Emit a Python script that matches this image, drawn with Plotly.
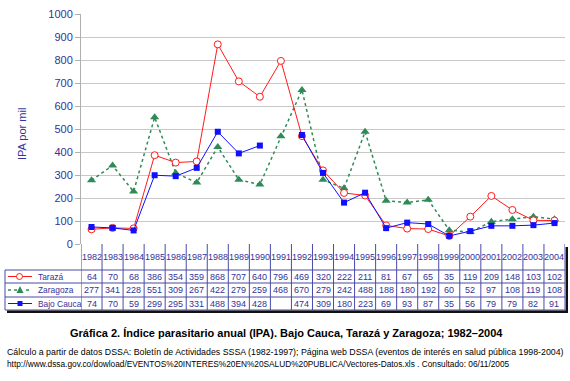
import plotly.graph_objects as go

years = [str(y) for y in range(1982, 2005)]
taraza = [64, 70, 68, 386, 354, 359, 868, 707, 640, 796, 469, 320, 222, 211, 81, 67, 65, 35, 119, 209, 148, 103, 102]
zaragoza = [277, 341, 228, 551, 309, 267, 422, 279, 259, 468, 670, 279, 242, 488, 188, 180, 192, 60, 52, 97, 108, 119, 108]
bajo_cauca = [74, 70, 59, 299, 295, 331, 488, 394, 428, None, 474, 309, 180, 223, 69, 93, 87, 35, 56, 79, 79, 82, 91]
series_names = ["Tarazá", "Zaragoza", "Bajo Cauca"]
yticks = list(range(0, 1001, 100))

W, H = 570, 381
L, R, T, B = 81, 565, 14, 244
NAVY = "#333399"
RED = "#ff1a1a"
GREEN = "#2e8b57"
BLUE = "#1010ff"


def xp(px):
    return (px - L) / (R - L)


def yp(py):
    return (B - py) / (B - T)


fig = go.Figure()
fig.add_trace(go.Scatter(x=years, y=zaragoza, mode="lines+markers", name="Zaragoza",
                         line=dict(color=GREEN, width=1.5, dash="dot"),
                         marker=dict(symbol="triangle-up", size=8, color=GREEN)))
fig.add_trace(go.Scatter(x=years, y=taraza, mode="lines+markers", name="Tarazá",
                         line=dict(color=RED, width=1),
                         marker=dict(symbol="circle", size=7, color="white",
                                     line=dict(color=RED, width=1))))
fig.add_trace(go.Scatter(x=years, y=bajo_cauca, mode="lines+markers", name="Bajo Cauca",
                         connectgaps=False,
                         line=dict(color=BLUE, width=1),
                         marker=dict(symbol="square", size=6, color=BLUE)))

fig.update_layout(
    width=W, height=H,
    margin=dict(l=L, r=W - R, t=T, b=H - B),
    paper_bgcolor="white", plot_bgcolor="white",
    showlegend=False,
    font=dict(family="Liberation Sans, Arial, sans-serif", color=NAVY),
    xaxis=dict(type="category", range=[-0.5, 22.5], showticklabels=False,
               showgrid=False, zeroline=False, showline=False, ticks=""),
    yaxis=dict(range=[0, 1000], tickvals=yticks, showgrid=True, gridcolor="#c8c8c8",
               gridwidth=1, zeroline=False, showline=True, linecolor="#b0b0b0",
               ticks="outside", ticklen=5, tickcolor="#b0b0b0",
               tickfont=dict(size=11, color=NAVY)),
)

shapes = []
ann = []


def text(t, x, y, xref="paper", size=9, color=NAVY, xanchor="center", angle=0):
    ann.append(dict(text=t, x=x, y=y, xref=xref, yref="paper", xanchor=xanchor,
                    yanchor="middle", textangle=angle, showarrow=False,
                    font=dict(size=size, color=color)))


# y-axis title
text("IPA por mil", xp(22), yp(134), size=11, angle=-90)

# table geometry
row_lines = [270, 283, 297, 310]
row_centers = [276.5, 290, 303.5]
line_col = "#4a4aa8"

for i in range(len(years) + 1):
    shapes.append(dict(type="line", xref="x", yref="paper", x0=i - 0.5, x1=i - 0.5,
                       y0=yp(B), y1=yp(310), line=dict(color=line_col, width=1)))
shapes.append(dict(type="line", xref="paper", yref="paper", x0=xp(5), x1=xp(5),
                   y0=yp(270), y1=yp(310), line=dict(color=line_col, width=1)))
for ry in row_lines:
    shapes.append(dict(type="line", xref="paper", yref="paper", x0=xp(5), x1=xp(R),
                       y0=yp(ry), y1=yp(ry), line=dict(color=line_col, width=1)))
# shadow
shapes.append(dict(type="rect", xref="paper", yref="paper", x0=xp(7), x1=xp(568),
                   y0=yp(313), y1=yp(310.5), line=dict(width=0), fillcolor="#111111"))
shapes.append(dict(type="rect", xref="paper", yref="paper", x0=xp(565.5), x1=xp(568),
                   y0=yp(313), y1=yp(247), line=dict(width=0), fillcolor="#111111"))

# year header
for i, y in enumerate(years):
    text(y, i, yp(257), xref="x")

# values
for vals, cy in zip([taraza, zaragoza, bajo_cauca], row_centers):
    for i, v in enumerate(vals):
        if v is None:
            continue
        text(str(v), i, yp(cy), xref="x")

# legend column
for name, cy in zip(series_names, row_centers):
    text(name, xp(36), yp(cy), xanchor="left", size=8.4)

shapes.append(dict(type="line", xref="paper", yref="paper", x0=xp(8), x1=xp(32),
                   y0=yp(276.5), y1=yp(276.5), line=dict(color=RED, width=1)))
shapes.append(dict(type="circle", xref="paper", yref="paper", x0=xp(16.5), x1=xp(22.5),
                   y0=yp(279.5), y1=yp(273.5), line=dict(color=RED, width=1), fillcolor="white"))
for sx in (8, 14, 26):
    shapes.append(dict(type="line", xref="paper", yref="paper", x0=xp(sx), x1=xp(sx + 3),
                       y0=yp(290), y1=yp(290), line=dict(color=GREEN, width=1.5)))
shapes.append(dict(type="path", xref="paper", yref="paper",
                   path="M {} {} L {} {} L {} {} Z".format(xp(16.5), yp(293), xp(23.5), yp(293),
                                                           xp(20), yp(286)),
                   line=dict(width=0), fillcolor=GREEN))
shapes.append(dict(type="line", xref="paper", yref="paper", x0=xp(8), x1=xp(32),
                   y0=yp(303.5), y1=yp(303.5), line=dict(color=BLUE, width=1)))
shapes.append(dict(type="rect", xref="paper", yref="paper", x0=xp(17.5), x1=xp(22.5),
                   y0=yp(306), y1=yp(301), line=dict(width=0), fillcolor=BLUE))

# caption
text("<b>Gráfica 2. Índice parasitario anual (IPA). Bajo Cauca, Tarazá y Zaragoza; 1982–2004</b>",
     xp(286), yp(333), size=11, color="black")
text("Cálculo a partir de datos DSSA: Boletín de Actividades SSSA (1982-1997); Página web DSSA (eventos de interés en salud pública 1998-2004)",
     xp(5), yp(352), size=8.8, color="black", xanchor="left")
text("http://www.dssa.gov.co/dowload/EVENTOS%20INTERES%20EN%20SALUD%20PUBLICA/Vectores-Datos.xls . Consultado: 06/11/2005",
     xp(5), yp(364), size=8.3, color="black", xanchor="left")

fig.update_layout(shapes=shapes, annotations=ann)
fig.write_html("out.html", config={"displayModeBar": False},
               post_script="document.body.style.margin='0';document.body.style.overflow='hidden';")
